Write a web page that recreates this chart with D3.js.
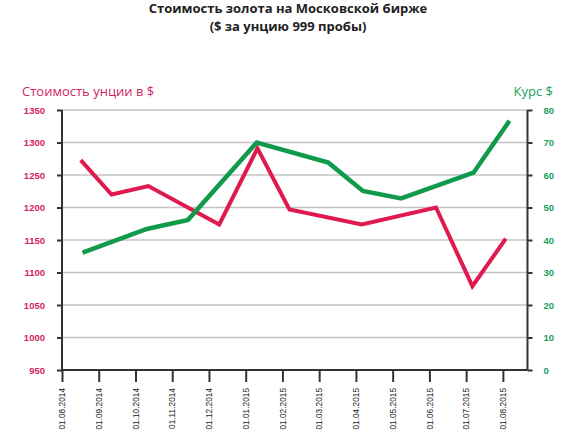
<!DOCTYPE html>
<html>
<head>
<meta charset="utf-8">
<script src="https://cdn.jsdelivr.net/npm/d3@7"></script>
<style>
  body { margin: 0; background: #fff; }
  svg { display: block; }
</style>
</head>
<body>
<svg id="chart" width="575" height="431"></svg>
<script>
// Data (x positions in months from 01.08.2014)
const dateLabels = ['01.08.2014', '01.09.2014', '01.10.2014', '01.11.2014', '01.12.2014',
  '01.01.2015', '01.02.2015', '01.03.2015', '01.04.2015', '01.05.2015',
  '01.06.2015', '01.07.2015', '01.08.2015'];

const goldMonths = [0.51, 1.35, 2.35, 4.28, 5.32, 6.19, 8.16, 10.18, 11.17, 12.08];
const goldValues = [1273, 1220, 1233, 1174, 1291, 1197, 1174, 1200, 1079, 1152];

const rateMonths = [0.56, 2.31, 3.43, 5.30, 7.25, 8.19, 9.23, 11.20, 12.18];
const rateValues = [36.1, 43.4, 46.2, 70.0, 63.8, 55.1, 52.8, 60.7, 76.7];

const goldTicks = [950, 1000, 1050, 1100, 1150, 1200, 1250, 1300, 1350];
const rateTicks = [0, 10, 20, 30, 40, 50, 60, 70, 80];

const red = '#e0194f', redText = '#d42460';
const green = '#119a4c', greenText = '#17a05a';

const svg = d3.select('#chart');
const plotL = 62, plotR = 527.5, plotT = 110, plotB = 370;

const x = d3.scaleLinear().domain([0, 12.67]).range([plotL, plotR]);
const yL = d3.scaleLinear().domain([950, 1350]).range([plotB, plotT]);
const yR = d3.scaleLinear().domain([0, 80]).range([plotB, plotT]);

// Title
const title = svg.append('text')
  .attr('text-anchor', 'middle')
  .style('font-family', '"Open Sans", sans-serif')
  .style('font-weight', 'bold')
  .style('font-size', '13px')
  .attr('fill', '#222');
title.append('tspan').attr('x', 288).attr('y', 13).text('Стоимость золота на Московской бирже');
title.append('tspan').attr('x', 288).attr('y', 31).text('($ за унцию 999 пробы)');

// Axis titles
svg.append('text')
  .attr('x', 22).attr('y', 96)
  .style('font-family', '"Open Sans", sans-serif')
  .style('font-size', '13px')
  .attr('fill', redText)
  .text('Стоимость унции в $');

svg.append('text')
  .attr('x', 553).attr('y', 96)
  .attr('text-anchor', 'end')
  .style('font-family', '"Open Sans", sans-serif')
  .style('font-size', '13px')
  .attr('fill', greenText)
  .text('Курс $');

// Gridlines
svg.append('g')
  .selectAll('line')
  .data(goldTicks.slice(1))
  .enter()
  .append('line')
  .attr('x1', plotL).attr('x2', plotR)
  .attr('y1', (d) => yL(d)).attr('y2', (d) => yL(d))
  .attr('stroke', '#c4c4c4')
  .attr('stroke-width', 1.5);

// Left axis
const axL = svg.append('g')
  .attr('transform', `translate(${plotL},0)`)
  .call(d3.axisLeft(yL).tickValues(goldTicks).tickFormat(d3.format('d'))
    .tickSize(5).tickSizeOuter(0).tickPadding(12));
axL.select('.domain').remove();
axL.selectAll('.tick line').attr('stroke', '#333').attr('stroke-width', 2);
axL.selectAll('.tick text')
  .attr('fill', redText)
  .style('font-family', '"Liberation Sans", Arial, sans-serif')
  .style('font-weight', 'bold')
  .style('font-size', '9.5px');

// Right axis
const axR = svg.append('g')
  .attr('transform', `translate(${plotR},0)`)
  .call(d3.axisRight(yR).tickValues(rateTicks).tickSize(5).tickSizeOuter(0).tickPadding(11));
axR.select('.domain').remove();
axR.selectAll('.tick line').attr('stroke', '#333').attr('stroke-width', 2);
axR.selectAll('.tick text')
  .attr('fill', greenText)
  .style('font-family', '"Liberation Sans", Arial, sans-serif')
  .style('font-weight', 'bold')
  .style('font-size', '9.5px');

// Bottom axis
const axB = svg.append('g')
  .attr('transform', `translate(0,${plotB})`)
  .call(d3.axisBottom(x)
    .tickValues(d3.range(dateLabels.length))
    .tickFormat((i) => dateLabels[i])
    .tickSize(12)
    .tickSizeOuter(0));
axB.select('.domain').remove();
axB.selectAll('.tick line').attr('stroke', '#333').attr('stroke-width', 2);
axB.selectAll('.tick text')
  .attr('transform', 'rotate(-90)')
  .attr('x', -18)
  .attr('y', 0)
  .attr('dy', '0.32em')
  .attr('text-anchor', 'end')
  .attr('fill', '#222')
  .style('font-family', '"Liberation Sans", Arial, sans-serif')
  .style('font-size', '8.3px');

// Axis lines
svg.append('line')
  .attr('x1', plotL).attr('x2', plotR)
  .attr('y1', plotB).attr('y2', plotB)
  .attr('stroke', '#333').attr('stroke-width', 2);
svg.append('line')
  .attr('x1', plotL).attr('x2', plotL)
  .attr('y1', plotT).attr('y2', plotB)
  .attr('stroke', '#333').attr('stroke-width', 2);
svg.append('line')
  .attr('x1', plotR).attr('x2', plotR)
  .attr('y1', plotT).attr('y2', plotB)
  .attr('stroke', '#333').attr('stroke-width', 2);

// Lines
const goldLine = d3.line()
  .x((d, i) => x(goldMonths[i]))
  .y((d) => yL(d));

const rateLine = d3.line()
  .x((d, i) => x(rateMonths[i]))
  .y((d) => yR(d));

svg.append('path')
  .attr('d', goldLine(goldValues))
  .attr('fill', 'none')
  .attr('stroke', red)
  .attr('stroke-width', 4);

svg.append('path')
  .attr('d', rateLine(rateValues))
  .attr('fill', 'none')
  .attr('stroke', green)
  .attr('stroke-width', 4.5);
</script>
</body>
</html>
